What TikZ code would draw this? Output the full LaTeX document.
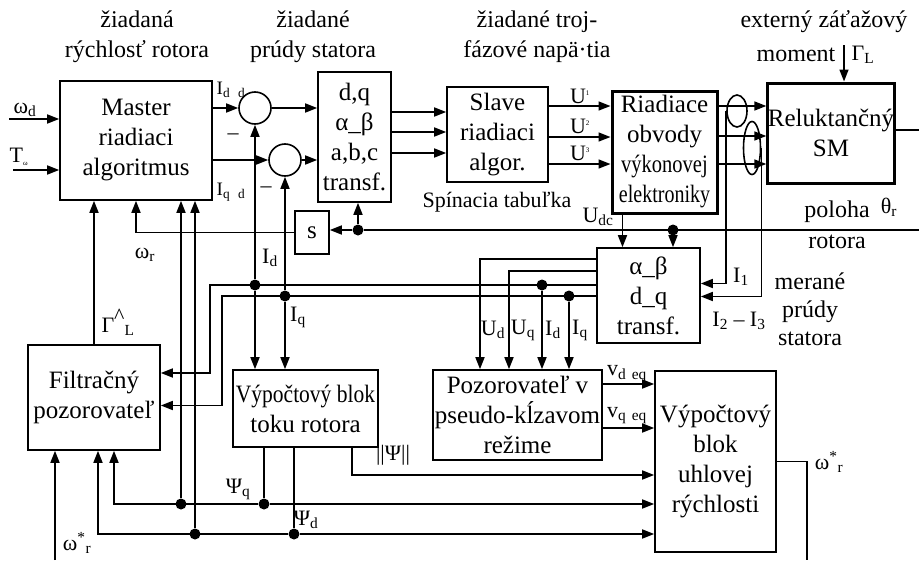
\documentclass[tikz,border=0pt]{standalone}
\usepackage{fontspec}
\usepackage{graphicx}
\setmainfont{Liberation Serif}
\usetikzlibrary{arrows.meta,shapes.geometric,positioning,calc}

\begin{document}
\begin{tikzpicture}[x=1pt, y=-1pt,
    font=\fontsize{24}{30}\selectfont,
    block/.style={rectangle, draw, line width=1.6pt, inner sep=0pt, align=center, font=\fontsize{25}{30}\selectfont},
    power/.style={block, line width=3pt},
    sum/.style={circle, draw, line width=1.6pt, minimum size=32pt, inner sep=0pt},
    sensor/.style={ellipse, draw, line width=1.6pt, inner sep=0pt},
    dot/.style={circle, fill, inner sep=0pt, minimum size=11pt},
    lbl/.style={inner sep=0pt, font=\fontsize{22}{24}\selectfont},
    arrow/.style={-{Triangle[length=12pt,width=9pt]}, line width=1.6pt},
    wire/.style={line width=1.6pt}
]
\useasboundingbox (0,0) rectangle (919,560);

% Headings
\node[align=center] (hspeed) at (137,37) {žiadaná\\rýchlosť rotora};
\node[align=center] (hcurr) at (313,37) {žiadané\\prúdy statora};
\node[align=center] (hvolt) at (537,37) {žiadané troj-\\fázové napä·tia};
\node (hload) at (824,22) {externý záťažový};
\node (hmom) at (796,55) {moment};
\node[lbl] (gaml) at (863,55) {Γ\textsubscript{L}};

% Blocks
\node[block, minimum width=152pt, minimum height=119pt] (master) at (136,140.5) {Master\\riadiaci\\algoritmus};
\node[sum] (sum1) at (255,108) {};
\node[sum] (sum2) at (285,160) {};
\node[block, minimum width=73pt, minimum height=130pt] (trans) at (354.5,137) {d,q\\α\_β\\a,b,c\\transf.};
\node[block, minimum width=101pt, minimum height=95pt] (slave) at (497.5,134.5) {Slave\\riadiaci\\algor.};
\node[power, minimum width=105pt, minimum height=122pt] (riad) at (664.5,152) {Riadiace\\obvody\\\scalebox{0.82}[1]{výkonovej}\\\scalebox{0.8}[1]{elektroniky}};
\node[power, minimum width=126pt, minimum height=100pt] (motor) at (831,133) {Reluktančný\\SM};
\node[block, minimum width=34pt, minimum height=43pt] (s) at (312,232.5) {s};
\node[block, minimum width=103pt, minimum height=95pt] (abdq) at (648.5,295.5) {α\_β\\d\_q\\transf.};
\node[block, minimum width=132pt, minimum height=105pt] (filt) at (94,397.5) {Filtračný\\pozorovateľ};
\node[block, minimum width=145pt, minimum height=77pt] (flux) at (305.5,408.5) {\scalebox{0.86}[1]{Výpočtový blok}\\toku rotora};
\node[block, minimum width=169pt, minimum height=90pt] (obs) at (517.5,415) {Pozorovateľ v\\pseudo-kĺzavom\\režime};
\node[block, minimum width=121pt, minimum height=181pt] (speed) at (715.5,461.5) {Výpočtový\\blok\\uhlovej\\rýchlosti};

% Current sensors
\node[sensor, minimum width=20pt, minimum height=32pt] (sens1) at (737,111) {};
\node[sensor, minimum width=17pt, minimum height=53pt] (sens2) at (752,148) {};

% Master inputs
\coordinate (wd) at (9,119);
\coordinate (tw) at (13,170);
\draw[arrow] (wd) -- (wd -| master.west);
\draw[arrow] (tw) -- (tw -| master.west);
\node[lbl] (wdl) at (25,110) {ω\textsubscript{d}};
\node[lbl] (twl) at (19,157) {T\textsubscript{\scriptsize ω}};

% Reference currents
\draw[arrow] (sum1.west -| master.east) -- (sum1.west);
\draw[arrow] (sum2.west -| master.east) -- (sum2.west);
\draw[arrow] (sum1.east) -- (sum1.east -| trans.west);
\draw[arrow] (sum2.east) -- (sum2.east -| trans.west);
\node[lbl, font=\fontsize{19}{22}\selectfont] (idref) at (231,90) {I\textsubscript{d}\hspace{8pt}\textsubscript{d}};
\node[lbl, font=\fontsize{19}{22}\selectfont] (iqref) at (231,192) {I\textsubscript{q}\hspace{8pt}\textsubscript{d}};
\node[lbl] (minus1) at (233,137) {–};
\node[lbl] (minus2) at (266,190) {–};

% Transformation -> slave -> power electronics -> motor
\foreach \y in {112,132,153}
  \draw[arrow] (trans.east |- 0,\y) -- (slave.west |- 0,\y);
\foreach \y in {106,137,164}
  \draw[arrow] (slave.east |- 0,\y) -- (riad.west |- 0,\y);
\foreach \y in {106,136,164}
  \draw[arrow] (riad.east |- 0,\y) -- (motor.west |- 0,\y);
\node[lbl] (u1) at (580,96) {U\textsuperscript{\fontsize{7}{7}\selectfont 1}};
\node[lbl] (u2) at (580,126) {U\textsuperscript{\fontsize{7}{7}\selectfont 2}};
\node[lbl] (u3) at (580,153) {U\textsuperscript{\fontsize{7}{7}\selectfont 3}};
\node[font=\fontsize{22}{26}\selectfont] (tab) at (497,202) {Spínacia tabuľka};

% Load torque and motor shaft
\coordinate (gl) at (844,45);
\draw[arrow] (gl) -- (gl |- motor.north);
\coordinate (mout) at (919,130);
\draw[wire] (motor.east |- mout) -- (mout);

% Rotor position
\coordinate (thr) at (919,230);
\node[dot] (dpos) at (358,230) {};
\node[dot] (dpos2) at (673,230) {};
\draw[wire] (thr) -- (dpos);
\draw[arrow] (dpos) -- (s.east |- dpos);
\draw[arrow] (dpos) -- (dpos |- trans.south);
\draw[arrow] (dpos2) -- (dpos2 |- abdq.north);
\draw[arrow] (s.west) -| (master.south);
\node[lbl] (wr) at (145,255) {ω\textsubscript{r}};
\node (pol) at (837,212) {poloha};
\node (rot) at (837,242) {rotora};
\node[lbl] (thl) at (889,207) {θ\textsubscript{r}};

% DC link voltage
\coordinate (udc) at ([xshift=-42pt]riad.south);
\draw[arrow] (udc) -- (udc |- abdq.north);
\node[lbl] (udcl) at (598,217) {U\textsubscript{dc}};

% Measured currents
\draw[arrow] (sens1.west) |- ([yshift=12pt]abdq.east);
\draw[arrow] (sens2.east) |- ([yshift=-1pt]abdq.east);
\node[lbl] (i1) at (741,277) {I\textsubscript{1}};
\node[lbl] (i23) at (739,321) {I\textsubscript{2} – I\textsubscript{3}};
\node[align=center, font=\fontsize{24}{28}\selectfont] (meas) at (810,309) {merané\\prúdy\\statora};

% d-q buses
\coordinate (ud) at (480,259);
\coordinate (uq) at (509,271);
\coordinate (idb) at (210,285);
\coordinate (iqb) at (222,296);
\draw[arrow] (ud -| abdq.west) -- (ud) -- (ud |- obs.north);
\draw[arrow] (uq -| abdq.west) -- (uq) -- (uq |- obs.north);
\draw[arrow] (idb -| abdq.west) -- (idb) |- ([yshift=24.5pt]filt.east);
\draw[arrow] (iqb -| abdq.west) -- (iqb) |- ([yshift=-8pt]filt.east);
\node[dot] (did) at (255,285) {};
\node[dot] (diq) at (285,296) {};
\node[dot] (did2) at (542,285) {};
\node[dot] (diq2) at (569,296) {};
\draw[arrow] (did) -- (sum1.south);
\draw[arrow] (did) -- (did |- flux.north);
\draw[arrow] (diq) -- (sum2.south);
\draw[arrow] (diq) -- (diq |- flux.north);
\draw[arrow] (did2) -- (did2 |- obs.north);
\draw[arrow] (diq2) -- (diq2 |- obs.north);
\node[lbl] (idl) at (270,258) {I\textsubscript{d}};
\node[lbl] (iql) at (298,317) {I\textsubscript{q}};
\node[lbl] (udl) at (493,330) {U\textsubscript{d}};
\node[lbl] (uql) at (523,330) {U\textsubscript{q}};
\node[lbl] (idl2) at (553,330) {I\textsubscript{d}};
\node[lbl] (iql2) at (580,330) {I\textsubscript{q}};

% Load torque estimate
\draw[arrow] (filt.north) -- (filt.north |- master.south);
\node[lbl] (gh) at (118,322) {Γ\raisebox{9pt}{\^{}}\textsubscript{L}};

% Flux outputs
\node[dot] (dpq) at (264,504) {};
\node[dot] (dpd) at (294,534) {};
\node[dot] (dpq0) at (181,504) {};
\node[dot] (dpd0) at (195,534) {};
\coordinate (fq) at (114,504);
\coordinate (fd) at (98,534);
\coordinate (pabs) at (352,475);
\draw[wire] (dpq |- flux.south) -- (dpq);
\draw[wire] (dpd |- flux.south) -- (dpd);
\draw[arrow] (dpq) -- (dpq -| speed.west);
\draw[arrow] (dpd) -- (dpd -| speed.west);
\draw[arrow] (dpq) -- (fq) -- (fq |- filt.south);
\draw[arrow] (dpd) -- (fd) -- (fd |- filt.south);
\draw[arrow] (dpq0) -- (dpq0 |- master.south);
\draw[arrow] (dpd0) -- (dpd0 |- master.south);
\draw[arrow] (pabs |- flux.south) -- (pabs) -- (pabs -| speed.west);
\node[lbl] (psq) at (238,489) {Ψ\textsubscript{q}};
\node[lbl] (psd) at (306,520) {Ψ\textsubscript{d}};
\node[lbl] (psa) at (393,455) {||Ψ||};

% Observer outputs
\coordinate (vd) at ([yshift=31pt]obs.east);
\coordinate (vq) at ([yshift=-13pt]obs.east);
\draw[arrow] (vd) -- (vd -| speed.west);
\draw[arrow] (vq) -- (vq -| speed.west);
\node[lbl] (vdl) at (627,374) {v\textsubscript{d\hspace{6pt}eq}};
\node[lbl] (vql) at (627,416) {v\textsubscript{q\hspace{6pt}eq}};

% Estimated speed
\coordinate (wend) at (807,560);
\coordinate (wbeg) at (55,560);
\draw[wire] (speed.east) -| (wend);
\draw[arrow] (wbeg) -- (wbeg |- filt.south);
\node[lbl] (wsr) at (829,462) {ω\textsuperscript{*}\textsubscript{r}};
\node[lbl] (wsl) at (77,543) {ω\textsuperscript{*}\textsubscript{r}};

\end{tikzpicture}
\end{document}
